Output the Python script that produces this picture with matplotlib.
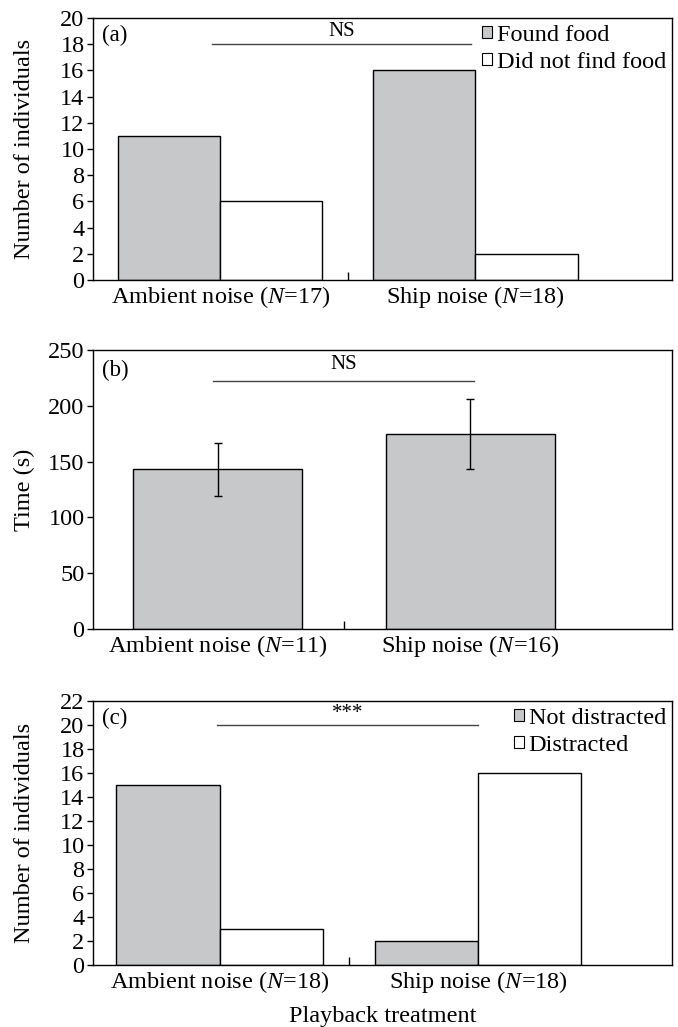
import matplotlib
matplotlib.use('Agg')
import matplotlib.pyplot as plt
from matplotlib.patches import Patch

plt.rcParams['font.family'] = ['Liberation Serif', 'DejaVu Serif']
plt.rcParams['mathtext.fontset'] = 'custom'
plt.rcParams['mathtext.rm'] = 'Liberation Serif'
plt.rcParams['mathtext.it'] = 'Liberation Serif:italic'

# (a) foraging success
a_labels = [r'Ambient noise ($\mathit{N}$=17)', r'Ship noise ($\mathit{N}$=18)']
a_found = [11, 16]
a_not_found = [6, 2]

# (b) time to find food
b_labels = [r'Ambient noise ($\mathit{N}$=11)', r'Ship noise ($\mathit{N}$=16)']
b_time = [143, 175]
b_err = [24, 31.5]

# (c) distraction
c_labels = [r'Ambient noise ($\mathit{N}$=18)', r'Ship noise ($\mathit{N}$=18)']
c_not_distracted = [15, 2]
c_distracted = [3, 16]

GREY = '#c7c8ca'
FS = 17.5
x = [0, 1]

fig = plt.figure(figsize=(6.78, 10.27), dpi=100)
ax_a = fig.add_axes([0.137, 0.7274, 0.854, 0.255])
ax_b = fig.add_axes([0.137, 0.3875, 0.854, 0.2717])
ax_c = fig.add_axes([0.137, 0.0604, 0.854, 0.257])


def style_axis(ax, labels):
    ax.set_xticks(x, labels)
    ax.set_xticks([0.5], minor=True)
    ax.tick_params(axis='x', which='major', length=0, labelsize=FS, pad=3)
    ax.tick_params(axis='x', which='minor', direction='in', length=6, width=1)
    ax.tick_params(axis='y', direction='out', length=4.5, width=1,
                   labelsize=FS, pad=1.5)
    for s in ax.spines.values():
        s.set_linewidth(1)


def sig_bar(ax, x0, x1, y, ytext, text, fs=15):
    ax.plot([x0, x1], [y, y], color='#444444', lw=1)
    ax.text((x0 + x1) / 2, ytext, text, ha='center', va='center', fontsize=fs)


def grouped(ax, s1, s2, names, labels, ymax, step):
    w = 0.4
    ax.bar([i - w / 2 for i in x], s1, w, color=GREY, edgecolor='black', lw=1)
    ax.bar([i + w / 2 for i in x], s2, w, color='white', edgecolor='black', lw=1)
    ax.set_ylim(0, ymax)
    ax.set_yticks(range(0, ymax + 1, step))
    ax.set_xlim(-0.5, 1.77)
    style_axis(ax, labels)
    handles = [Patch(facecolor=GREY, edgecolor='black', lw=0.8),
               Patch(facecolor='white', edgecolor='black', lw=0.8)]
    ax.legend(handles, names, loc='upper right', bbox_to_anchor=(1.015, 1.03),
              frameon=False, fontsize=FS, handlelength=0.4, handleheight=0.4,
              handletextpad=0.2, labelspacing=0.25, borderaxespad=0.2)
    ax.set_ylabel('Number of individuals', fontsize=FS)
    ax.yaxis.set_label_coords(-0.1, 0.5)


# panel (a)
grouped(ax_a, a_found, a_not_found, ['Found food', 'Did not find food'],
        a_labels, 20, 2)
sig_bar(ax_a, -0.034, 0.983, 18, 19.0, 'NS')
ax_a.text(0.015, 0.975, '(a)', transform=ax_a.transAxes, fontsize=FS - 1,
          va='top', ha='left')

# panel (b)
ax_b.bar(x, b_time, 0.668, color=GREY, edgecolor='black', lw=1,
         yerr=b_err, capsize=3, error_kw=dict(elinewidth=1, capthick=1))
ax_b.set_ylim(0, 250)
ax_b.set_yticks(range(0, 251, 50))
ax_b.set_xlim(-0.494, 1.797)
style_axis(ax_b, b_labels)
ax_b.set_ylabel('Time (s)', fontsize=FS)
ax_b.yaxis.set_label_coords(-0.1, 0.5)
sig_bar(ax_b, -0.019, 1.014, 222, 237, 'NS')
ax_b.text(0.015, 0.965, '(b)', transform=ax_b.transAxes, fontsize=FS - 1,
          va='top', ha='left')

# panel (c)
grouped(ax_c, c_not_distracted, c_distracted, ['Not distracted', 'Distracted'],
        c_labels, 22, 2)
ax_c.set_xlim(-0.49, 1.75)
sig_bar(ax_c, -0.01, 1.0, 20, 21.0, '***')
ax_c.text(0.015, 0.975, '(c)', transform=ax_c.transAxes, fontsize=FS - 1,
          va='top', ha='left')
ax_c.set_xlabel('Playback treatment', fontsize=FS, labelpad=8)

fig.savefig('out.png', dpi=100)
